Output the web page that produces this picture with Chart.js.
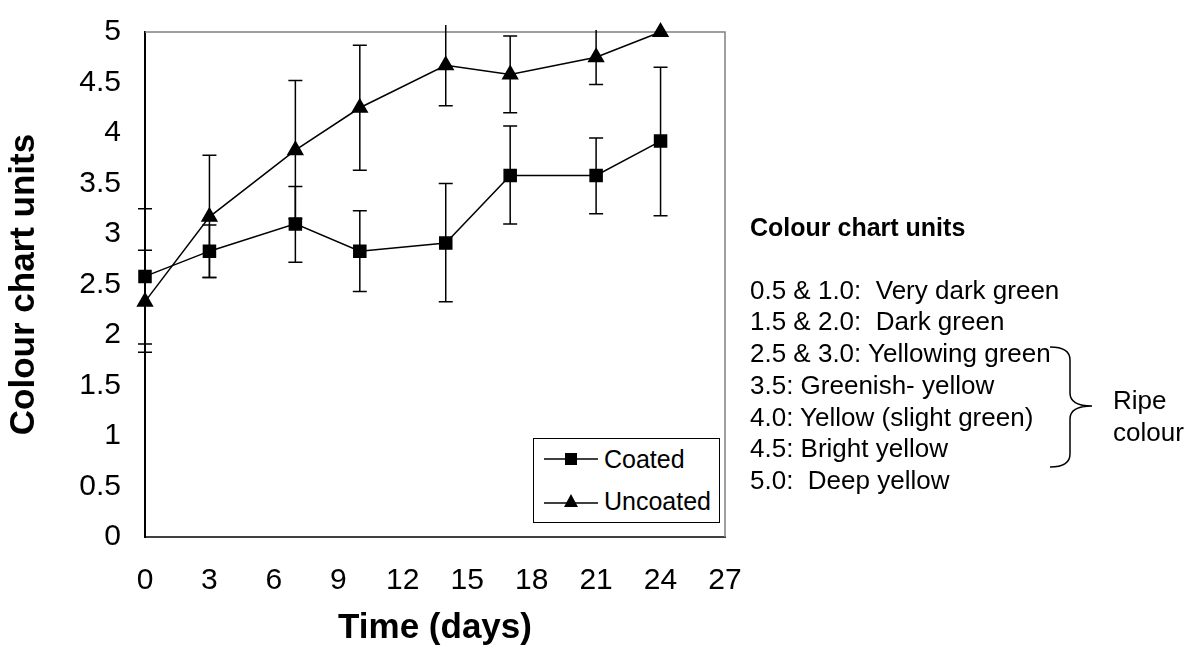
<!DOCTYPE html>
<html>
<head>
<meta charset="utf-8">
<script src="https://cdn.jsdelivr.net/npm/chart.js@4.4.0/dist/chart.umd.min.js"></script>
<style>
  body { margin: 0; background: #fff; font-family: "Liberation Sans", Arial, sans-serif; }
  #wrap { position: relative; width: 1191px; height: 665px; overflow: hidden; }
  #chart { position: absolute; left: 0; top: 0; }
  .legend { position: absolute; left: 533px; top: 438px; width: 185px; height: 83px; border: 1px solid #000; background: #fff; }
  .legend .item { position: absolute; left: 0; height: 30px; font-size: 25px; line-height: 30px; white-space: nowrap; }
  .legend svg { position: absolute; left: 8px; top: 5px; }
  .legend span { position: absolute; left: 70px; top: 0; }
  .notes { position: absolute; left: 750px; top: 212px; font-size: 26px; line-height: 31.7px; white-space: pre; color: #000; }
  .notes .head { font-weight: bold; font-size: 25px; margin-bottom: 31px; }
  .ripe { position: absolute; left: 1113px; top: 384px; font-size: 26px; line-height: 32px; }
  .brace { position: absolute; left: 0; top: 0; }
</style>
</head>
<body>
<div id="wrap">
  <canvas id="chart" width="1191" height="665"></canvas>
  <div class="legend">
    <div class="item" style="top:5px">
      <svg width="60" height="20"><line x1="2" y1="10" x2="56" y2="10" stroke="#000" stroke-width="1.5"/><rect x="23" y="4" width="12" height="12" fill="#000"/></svg>
      <span>Coated</span>
    </div>
    <div class="item" style="top:47px">
      <svg width="60" height="20"><line x1="2" y1="12" x2="56" y2="12" stroke="#000" stroke-width="1.5"/><polygon points="29,3 36,16 22,16" fill="#000"/></svg>
      <span>Uncoated</span>
    </div>
  </div>
  <div class="notes"><div class="head">Colour chart units</div>0.5 &amp; 1.0:  Very dark green
1.5 &amp; 2.0:  Dark green
2.5 &amp; 3.0: Yellowing green
3.5: Greenish- yellow
4.0: Yellow (slight green)
4.5: Bright yellow
5.0:  Deep yellow</div>
  <svg class="brace" width="1191" height="665">
    <path d="M1050 347 Q1070 347 1070 360 L1070 393 Q1070 406 1092 406 Q1070 406 1070 419 L1070 454 Q1070 467 1050 467" fill="none" stroke="#000" stroke-width="1.5"/>
  </svg>
  <div class="ripe">Ripe<br>colour</div>
</div>
<script>
// dados
const days = [0, 3, 7, 10, 14, 17, 21, 24];
const coatedMean = [2.58, 2.83, 3.10, 2.83, 2.91, 3.58, 3.58, 3.92];
const coatedLow  = [1.91, 2.57, 2.72, 2.43, 2.33, 3.10, 3.20, 3.18];
const coatedHigh = [3.25, 3.09, 3.47, 3.23, 3.50, 4.07, 3.95, 4.65];
const uncoatedMean = [2.33, 3.17, 3.83, 4.25, 4.67, 4.58, 4.75, 5.00];
const uncoatedLow  = [1.83, 2.57, 3.15, 3.63, 4.27, 4.20, 4.48, null];
const uncoatedHigh = [2.84, 3.78, 4.52, 4.87, 5.07, 4.96, 5.02, null];
const xTicks = [0, 3, 6, 9, 12, 15, 18, 21, 24, 27];
const yTicks = [0, 0.5, 1, 1.5, 2, 2.5, 3, 3.5, 4, 4.5, 5];

const font = '"Liberation Sans", Arial, sans-serif';

// barras de erro desenhadas pelas escalas do gráfico
const errorBars = {
  id: 'errorBars',
  afterDatasetsDraw(chart) {
    const ctx = chart.ctx;
    const xs = chart.scales.x, ys = chart.scales.y;
    const sets = [[coatedLow, coatedHigh], [uncoatedLow, uncoatedHigh]];
    ctx.save();
    ctx.strokeStyle = '#000';
    ctx.lineWidth = 1.5;
    sets.forEach(([lo, hi]) => {
      days.forEach((d, i) => {
        if (lo[i] == null) return;
        const x = xs.getPixelForValue(d);
        const y1 = ys.getPixelForValue(lo[i]);
        const y2 = ys.getPixelForValue(hi[i]);
        ctx.beginPath();
        ctx.moveTo(x, y1); ctx.lineTo(x, y2);
        ctx.moveTo(x - 7, y1); ctx.lineTo(x + 7, y1);
        if (hi[i] <= 5) { ctx.moveTo(x - 7, y2); ctx.lineTo(x + 7, y2); }
        ctx.stroke();
      });
    });
    ctx.restore();
  }
};

// moldura cinza em cima e à direita
const frame = {
  id: 'frame',
  beforeDatasetsDraw(chart) {
    const {ctx, chartArea: a} = chart;
    ctx.save();
    ctx.strokeStyle = '#808080';
    ctx.lineWidth = 1.5;
    ctx.beginPath();
    ctx.moveTo(a.left, a.top); ctx.lineTo(a.right, a.top); ctx.lineTo(a.right, a.bottom);
    ctx.stroke();
    ctx.restore();
  }
};

const chart = new Chart(document.getElementById('chart'), {
  type: 'line',
  data: {
    datasets: [{
      label: 'Coated',
      data: days.map((d, i) => ({x: d, y: coatedMean[i]})),
      borderColor: '#000', backgroundColor: '#000', borderWidth: 1.5,
      pointStyle: 'rect', pointRadius: 8.5, pointHoverRadius: 8.5, clip: false
    }, {
      label: 'Uncoated',
      data: days.map((d, i) => ({x: d, y: uncoatedMean[i]})),
      borderColor: '#000', backgroundColor: '#000', borderWidth: 1.5,
      pointStyle: 'triangle', pointRadius: 8.5, pointHoverRadius: 8.5, clip: false
    }]
  },
  options: {
    responsive: false,
    animation: false,
    devicePixelRatio: 1,
    layout: { padding: { top: 22, right: 466, left: 0, bottom: 0 } },
    plugins: { legend: { display: false }, tooltip: { enabled: false } },
    scales: {
      x: {
        type: 'linear', min: 0, max: 27,
        afterBuildTicks: s => { s.ticks = xTicks.map(v => ({value: v})); },
        afterFit: s => { s.height = 128; },
        grid: { display: false, drawOnChartArea: false, drawTicks: true, tickLength: 10, tickColor: '#808080' },
        border: { color: '#404040', width: 2 },
        ticks: { color: '#000', font: { family: font, size: 30 }, padding: 16, maxRotation: 0 },
        title: { display: true, text: 'Time (days)', color: '#000', font: { family: font, size: 35, weight: 'bold' }, padding: { bottom: 16 } }
      },
      y: {
        type: 'linear', min: 0, max: 5,
        afterBuildTicks: s => { s.ticks = yTicks.map(v => ({value: v})); },
        afterFit: s => { s.width = 145; },
        grid: { display: false, drawOnChartArea: false, drawTicks: true, tickLength: 10, tickColor: '#808080' },
        border: { color: '#000', width: 2 },
        ticks: { color: '#000', font: { family: font, size: 30 }, padding: 14, callback: v => String(v) },
        title: { display: true, text: 'Colour chart units', color: '#000', font: { family: font, size: 35, weight: 'bold' }, padding: { top: 3 } }
      }
    }
  },
  plugins: [frame, errorBars]
});
</script>
</body>
</html>
